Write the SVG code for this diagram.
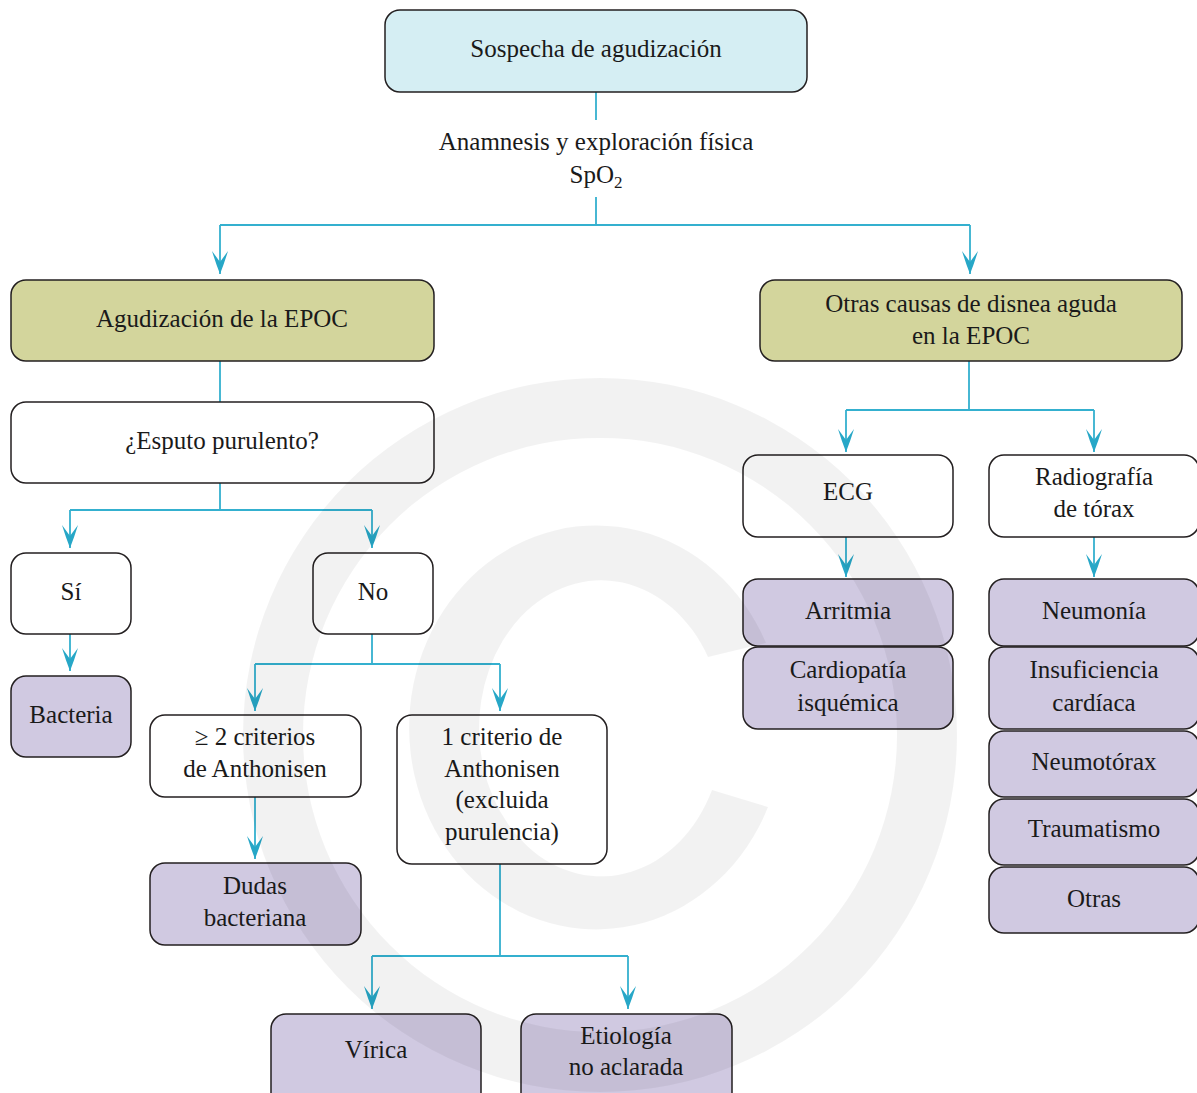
<svg xmlns="http://www.w3.org/2000/svg" width="1197" height="1093" viewBox="0 0 1197 1093">
<style>
.box{stroke:#231f20;stroke-width:1.5}
.w{fill:#ffffff}
.b{fill:#d5eef3}
.g{fill:#d3d59c}
.p{fill:#d0c9e1}
.ln{fill:none;stroke:#34b0cf;stroke-width:1.8}
</style>
<defs>
<marker id="ah" viewBox="-23 -9 24 18" refX="0" refY="0" markerWidth="24" markerHeight="18" markerUnits="userSpaceOnUse" orient="auto">
<path d="M0,0 Q-10,-4 -23,-8 L-12,0 L-23,8 Q-10,4 0,0 Z" fill="#27a7c7"/>
</marker>
</defs>
<rect width="1197" height="1093" fill="#ffffff"/>

<g id="connectors">
<path class="ln" d="M596,92 V120"/>
<path class="ln" d="M596,197 V225 M220,225 H970"/>
<path class="ln" d="M220,225 V274" marker-end="url(#ah)"/>
<path class="ln" d="M970,225 V274" marker-end="url(#ah)"/>
<path class="ln" d="M220,361 V402"/>
<path class="ln" d="M220,483 V510 M70,510 H372"/>
<path class="ln" d="M70,510 V548" marker-end="url(#ah)"/>
<path class="ln" d="M372,510 V548" marker-end="url(#ah)"/>
<path class="ln" d="M70,634 V671" marker-end="url(#ah)"/>
<path class="ln" d="M372,634 V664 M255,664 H500"/>
<path class="ln" d="M255,664 V711" marker-end="url(#ah)"/>
<path class="ln" d="M500,664 V711" marker-end="url(#ah)"/>
<path class="ln" d="M255,797 V859" marker-end="url(#ah)"/>
<path class="ln" d="M500,864 V956 M372,956 H628"/>
<path class="ln" d="M372,956 V1009" marker-end="url(#ah)"/>
<path class="ln" d="M628,956 V1009" marker-end="url(#ah)"/>
<path class="ln" d="M969,361 V410 M846,410 H1094"/>
<path class="ln" d="M846,410 V452" marker-end="url(#ah)"/>
<path class="ln" d="M1094,410 V452" marker-end="url(#ah)"/>
<path class="ln" d="M846,537 V577" marker-end="url(#ah)"/>
<path class="ln" d="M1094,537 V577" marker-end="url(#ah)"/>
</g>

<g font-family="Liberation Serif, DejaVu Serif, serif" font-size="25" fill="#1a1a1a" text-anchor="middle">
<g id="n-sospecha"><rect class="box b" x="385" y="10" width="422" height="82" rx="15"/><text x="596" y="57">Sospecha de agudización</text></g>
<g id="t-anamnesis"><text x="596" y="150">Anamnesis y exploración física</text><text x="596" y="183">SpO<tspan font-size="17" dy="5">2</tspan></text></g>
<g id="n-agudizacion"><rect class="box g" x="11" y="280" width="423" height="81" rx="15"/><text x="222" y="327">Agudización de la EPOC</text></g>
<g id="n-otras-causas"><rect class="box g" x="760" y="280" width="422" height="81" rx="15"/><text x="971" y="312">Otras causas de disnea aguda</text><text x="971" y="344">en la EPOC</text></g>
<g id="n-esputo"><rect class="box w" x="11" y="402" width="423" height="81" rx="15"/><text x="222" y="449">¿Esputo purulento?</text></g>
<g id="n-si"><rect class="box w" x="11" y="553" width="120" height="81" rx="15"/><text x="71" y="600">Sí</text></g>
<g id="n-no"><rect class="box w" x="313" y="553" width="120" height="81" rx="15"/><text x="373" y="600">No</text></g>
<g id="n-bacteria"><rect class="box p" x="11" y="676" width="120" height="81" rx="15"/><text x="71" y="723">Bacteria</text></g>
<g id="n-2criterios"><rect class="box w" x="150" y="715" width="211" height="82" rx="15"/><text x="255" y="745">≥ 2 criterios</text><text x="255" y="777">de Anthonisen</text></g>
<g id="n-1criterio"><rect class="box w" x="397" y="715" width="210" height="149" rx="15"/><text x="502" y="745">1 criterio de</text><text x="502" y="777">Anthonisen</text><text x="502" y="808">(excluida</text><text x="502" y="840">purulencia)</text></g>
<g id="n-dudas"><rect class="box p" x="150" y="863" width="211" height="82" rx="15"/><text x="255" y="894">Dudas</text><text x="255" y="926">bacteriana</text></g>
<g id="n-virica"><rect class="box p" x="271" y="1014" width="210" height="95" rx="15"/><text x="376" y="1058">Vírica</text></g>
<g id="n-etiologia"><rect class="box p" x="521" y="1014" width="211" height="95" rx="15"/><text x="626" y="1044">Etiología</text><text x="626" y="1075">no aclarada</text></g>
<g id="n-ecg"><rect class="box w" x="743" y="455" width="210" height="82" rx="15"/><text x="848" y="500">ECG</text></g>
<g id="n-radiografia"><rect class="box w" x="989" y="455" width="210" height="82" rx="15"/><text x="1094" y="485">Radiografía</text><text x="1094" y="517">de tórax</text></g>
<g id="n-arritmia"><rect class="box p" x="743" y="579" width="210" height="67" rx="15"/><text x="848" y="619">Arritmia</text></g>
<g id="n-cardiopatia"><rect class="box p" x="743" y="647" width="210" height="82" rx="15"/><text x="848" y="678">Cardiopatía</text><text x="848" y="711">isquémica</text></g>
<g id="n-neumonia"><rect class="box p" x="989" y="579" width="210" height="67" rx="15"/><text x="1094" y="619">Neumonía</text></g>
<g id="n-insuficiencia"><rect class="box p" x="989" y="647" width="210" height="82" rx="15"/><text x="1094" y="678">Insuficiencia</text><text x="1094" y="711">cardíaca</text></g>
<g id="n-neumotorax"><rect class="box p" x="989" y="731" width="210" height="66" rx="15"/><text x="1094" y="770">Neumotórax</text></g>
<g id="n-traumatismo"><rect class="box p" x="989" y="799" width="210" height="66" rx="15"/><text x="1094" y="837">Traumatismo</text></g>
<g id="n-otras"><rect class="box p" x="989" y="867" width="210" height="66" rx="15"/><text x="1094" y="907">Otras</text></g>
</g>

<g id="watermark" fill="#000000" fill-opacity="0.05">
<path fill-rule="evenodd" d="M243,735 A357,357 0 1 0 957,735 A357,357 0 1 0 243,735 Z M303,735 A297,297 0 1 1 897,735 A297,297 0 1 1 303,735 Z"/>
<path d="M766,643 A187,202 0 1 0 768,807 L712,790 A122,148 0 1 1 708,657 Z"/>
</g>
</svg>
